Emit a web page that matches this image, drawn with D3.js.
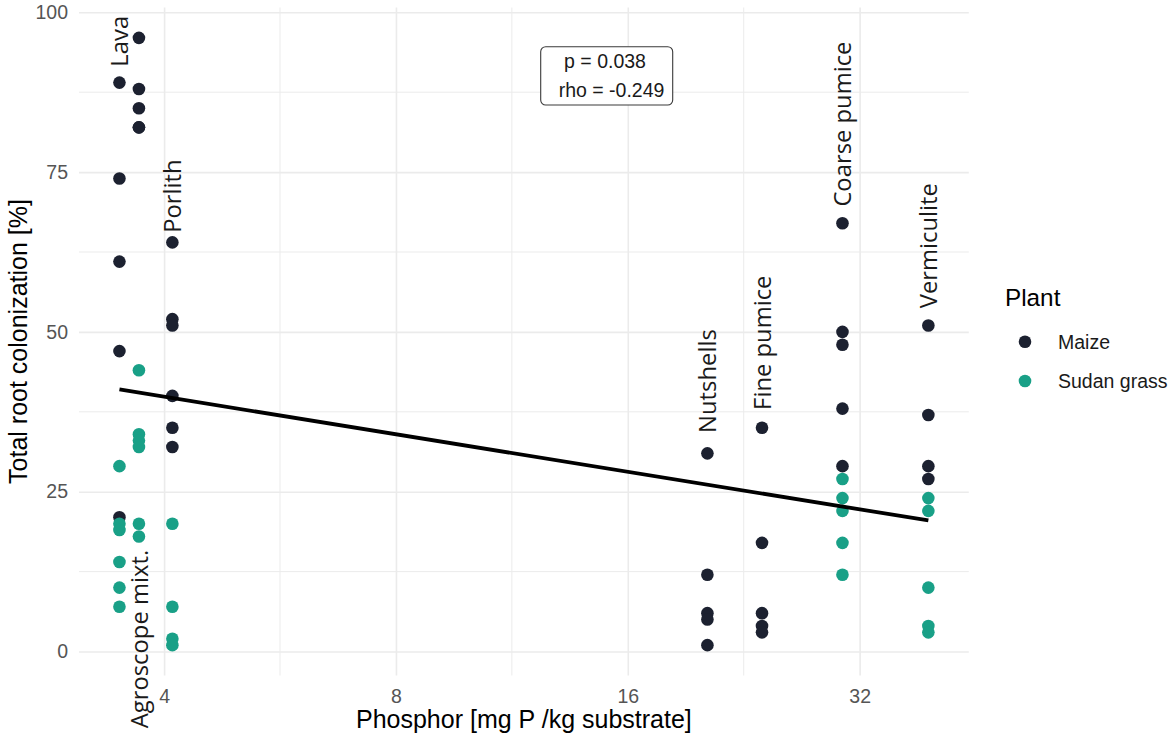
<!DOCTYPE html>
<html>
<head>
<meta charset="utf-8">
<script src="https://cdn.jsdelivr.net/npm/d3@7"></script>
<style>
  body { margin: 0; background: #fff; }
  text { font-family: "Liberation Sans", Arial, sans-serif; }
  .sub-label { font-family: "Open Sans", sans-serif; }
</style>
</head>
<body>
<div id="graph-box"></div>
<script>

var substrates = ['Agroscope mixt.', 'Lava', 'Porlith', 'Nutshells', 'Fine pumice', 'Coarse pumice', 'Vermiculite'];
var phosphor = [3.5, 3.71, 4.1, 20.3, 23.9, 30.4, 39.3];

var maizeValues = [
  [89, 74, 61, 47, 21],
  [96, 88, 85, 82, 82],
  [64, 52, 51, 40, 35, 32],
  [31, 12, 6, 5, 1],
  [35, 17, 6, 4, 3],
  [67, 50, 48, 38, 29],
  [51, 37, 29, 27]
];
var sudanValues = [
  [29, 20, 19, 14, 10, 7],
  [44, 34, 33, 32, 20, 18],
  [20, 7, 2, 1],
  [],
  [],
  [27, 24, 22, 17, 12],
  [24, 22, 10, 4, 3]
];

// label text sits on a column, starting at a y value
var labelNames = ['Lava', 'Agroscope mixt.', 'Porlith', 'Nutshells', 'Fine pumice', 'Coarse pumice', 'Vermiculite'];
var labelP = [3.5, 3.71, 4.1, 20.3, 23.9, 30.4, 39.3];
var labelY = [91.5, -12.0, 65.5, 34.2, 37.8, 69.6, 53.7];

// fitted lm line at the two ends of the data
var fitP = [3.5, 39.3];
var fitY = [41.0, 20.5];

var xTicks = [4, 8, 16, 32];
var xMinor = [Math.pow(2, 2.5), Math.pow(2, 3.5), Math.pow(2, 4.5)];
var yTicks = [0, 25, 50, 75, 100];
var yMinor = [12.5, 37.5, 62.5, 87.5];

var statLines = ['p = 0.038', 'rho = -0.249'];

var plantNames = ['Maize', 'Sudan grass'];
var plantColors = ['#1c2130', '#19a087'];

var width = 1170;
var height = 738;
var panel = { left: 79, right: 968.8, top: 7.5, bottom: 675.5 };

var points = [];
substrates.forEach(function(s, i) {
  maizeValues[i].forEach(function(v) { points.push({ p: phosphor[i], y: v, plant: 0 }); });
});
substrates.forEach(function(s, i) {
  sudanValues[i].forEach(function(v) { points.push({ p: phosphor[i], y: v, plant: 1 }); });
});

// ggplot style 5% expansion, in log space for x
var lx = d3.extent(phosphor, function(d) { return Math.log2(d); });
var padX = (lx[1] - lx[0]) * 0.05;
var x = d3.scaleLog().base(2)
    .domain([Math.pow(2, lx[0] - padX), Math.pow(2, lx[1] + padX)])
    .range([panel.left, panel.right]);

var ly = d3.extent(points, function(d) { return d.y; });
var padY = (ly[1] - ly[0]) * 0.05;
var y = d3.scaleLinear()
    .domain([ly[0] - padY, ly[1] + padY])
    .range([panel.bottom, panel.top]);

var svg = d3.select('#graph-box')
    .append('svg')
    .attr('width', width)
    .attr('height', height);

var grid = svg.append('g').attr('class', 'grid');

grid.selectAll('.xminor')
    .data(xMinor)
    .enter().append('line')
    .attr('x1', function(d) { return x(d); })
    .attr('x2', function(d) { return x(d); })
    .attr('y1', panel.top)
    .attr('y2', panel.bottom)
    .attr('stroke', '#ebebeb')
    .attr('stroke-width', 1);

grid.selectAll('.yminor')
    .data(yMinor)
    .enter().append('line')
    .attr('x1', panel.left)
    .attr('x2', panel.right)
    .attr('y1', function(d) { return y(d); })
    .attr('y2', function(d) { return y(d); })
    .attr('stroke', '#ebebeb')
    .attr('stroke-width', 1);

svg.append('g')
    .attr('class', 'xaxis')
    .attr('transform', 'translate(0,' + panel.bottom + ')')
    .call(d3.axisBottom(x)
            .tickValues(xTicks)
            .tickSize(-(panel.bottom - panel.top))
            .tickPadding(14)
            .tickFormat(d3.format('d')));

svg.append('g')
    .attr('class', 'yaxis')
    .attr('transform', 'translate(' + panel.left + ',0)')
    .call(d3.axisLeft(y)
            .tickValues(yTicks)
            .tickSize(-(panel.right - panel.left))
            .tickPadding(11));

svg.selectAll('.xaxis, .yaxis').select('.domain').remove();
svg.selectAll('.xaxis .tick line, .yaxis .tick line')
    .attr('stroke', '#ebebeb')
    .attr('stroke-width', 1.6);
svg.selectAll('.xaxis .tick text, .yaxis .tick text')
    .attr('fill', '#555')
    .style('font-size', '19.5px')
    .style('font-family', '"Liberation Sans", Arial, sans-serif');

// points
svg.append('g')
    .attr('class', 'dots')
    .selectAll('circle')
    .data(points)
    .enter().append('circle')
    .attr('cx', function(d) { return x(d.p); })
    .attr('cy', function(d) { return y(d.y); })
    .attr('r', 6.3)
    .attr('fill', function(d) { return plantColors[d.plant]; });

// regression line
var fitLine = d3.line()
    .x(function(d) { return x(d[0]); })
    .y(function(d) { return y(d[1]); });

svg.append('path')
    .datum(d3.zip(fitP, fitY))
    .attr('d', fitLine)
    .attr('fill', 'none')
    .attr('stroke', '#000')
    .attr('stroke-width', 3.8);

// substrate names
svg.append('g')
    .selectAll('text')
    .data(labelNames)
    .enter().append('text')
    .attr('class', 'sub-label')
    .attr('transform', function(d, i) {
      return 'translate(' + x(labelP[i]) + ',' + y(labelY[i]) + ') rotate(-90)';
    })
    .attr('dy', '0.36em')
    .attr('fill', '#1a1a1a')
    .style('font-size', '23.8px')
    .text(function(d) { return d; });

// stats box
var statG = svg.append('g').attr('class', 'stat-box');
statG.append('rect')
    .attr('x', 540.7)
    .attr('y', 46.7)
    .attr('width', 132)
    .attr('height', 58.3)
    .attr('rx', 5)
    .attr('fill', '#fff')
    .attr('stroke', '#3a3a3a')
    .attr('stroke-width', 1.1);
statG.selectAll('text')
    .data(statLines)
    .enter().append('text')
    .attr('x', function(d, i) { return i == 0 ? 605 : 611.5; })
    .attr('y', function(d, i) { return 68 + i * 28.5; })
    .attr('text-anchor', 'middle')
    .attr('fill', '#1a1a1a')
    .style('font-size', '19.5px')
    .text(function(d) { return d; });

// axis titles
svg.append('text')
    .attr('x', (panel.left + panel.right) / 2)
    .attr('y', 728)
    .attr('text-anchor', 'middle')
    .attr('fill', '#000')
    .style('font-size', '25px')
    .text('Phosphor [mg P /kg substrate]');

svg.append('text')
    .attr('transform', 'translate(27,' + (panel.top + panel.bottom) / 2 + ') rotate(-90)')
    .attr('text-anchor', 'middle')
    .attr('fill', '#000')
    .style('font-size', '25px')
    .text('Total root colonization [%]');

// legend
var legend = svg.append('g')
    .attr('class', 'legend')
    .attr('transform', 'translate(1005,0)');

legend.append('text')
    .attr('x', 0)
    .attr('y', 306)
    .attr('fill', '#000')
    .style('font-size', '24.3px')
    .text('Plant');

var keys = legend.selectAll('.key')
    .data(plantNames)
    .enter().append('g')
    .attr('class', 'key')
    .attr('transform', function(d, i) { return 'translate(0,' + (341.7 + i * 39.3) + ')'; });

keys.append('circle')
    .attr('cx', 20)
    .attr('cy', 0)
    .attr('r', 6.3)
    .attr('fill', function(d, i) { return plantColors[i]; });

keys.append('text')
    .attr('x', 53)
    .attr('dy', '0.36em')
    .attr('fill', '#1a1a1a')
    .style('font-size', '19.5px')
    .text(function(d) { return d; });

</script>
</body>
</html>
